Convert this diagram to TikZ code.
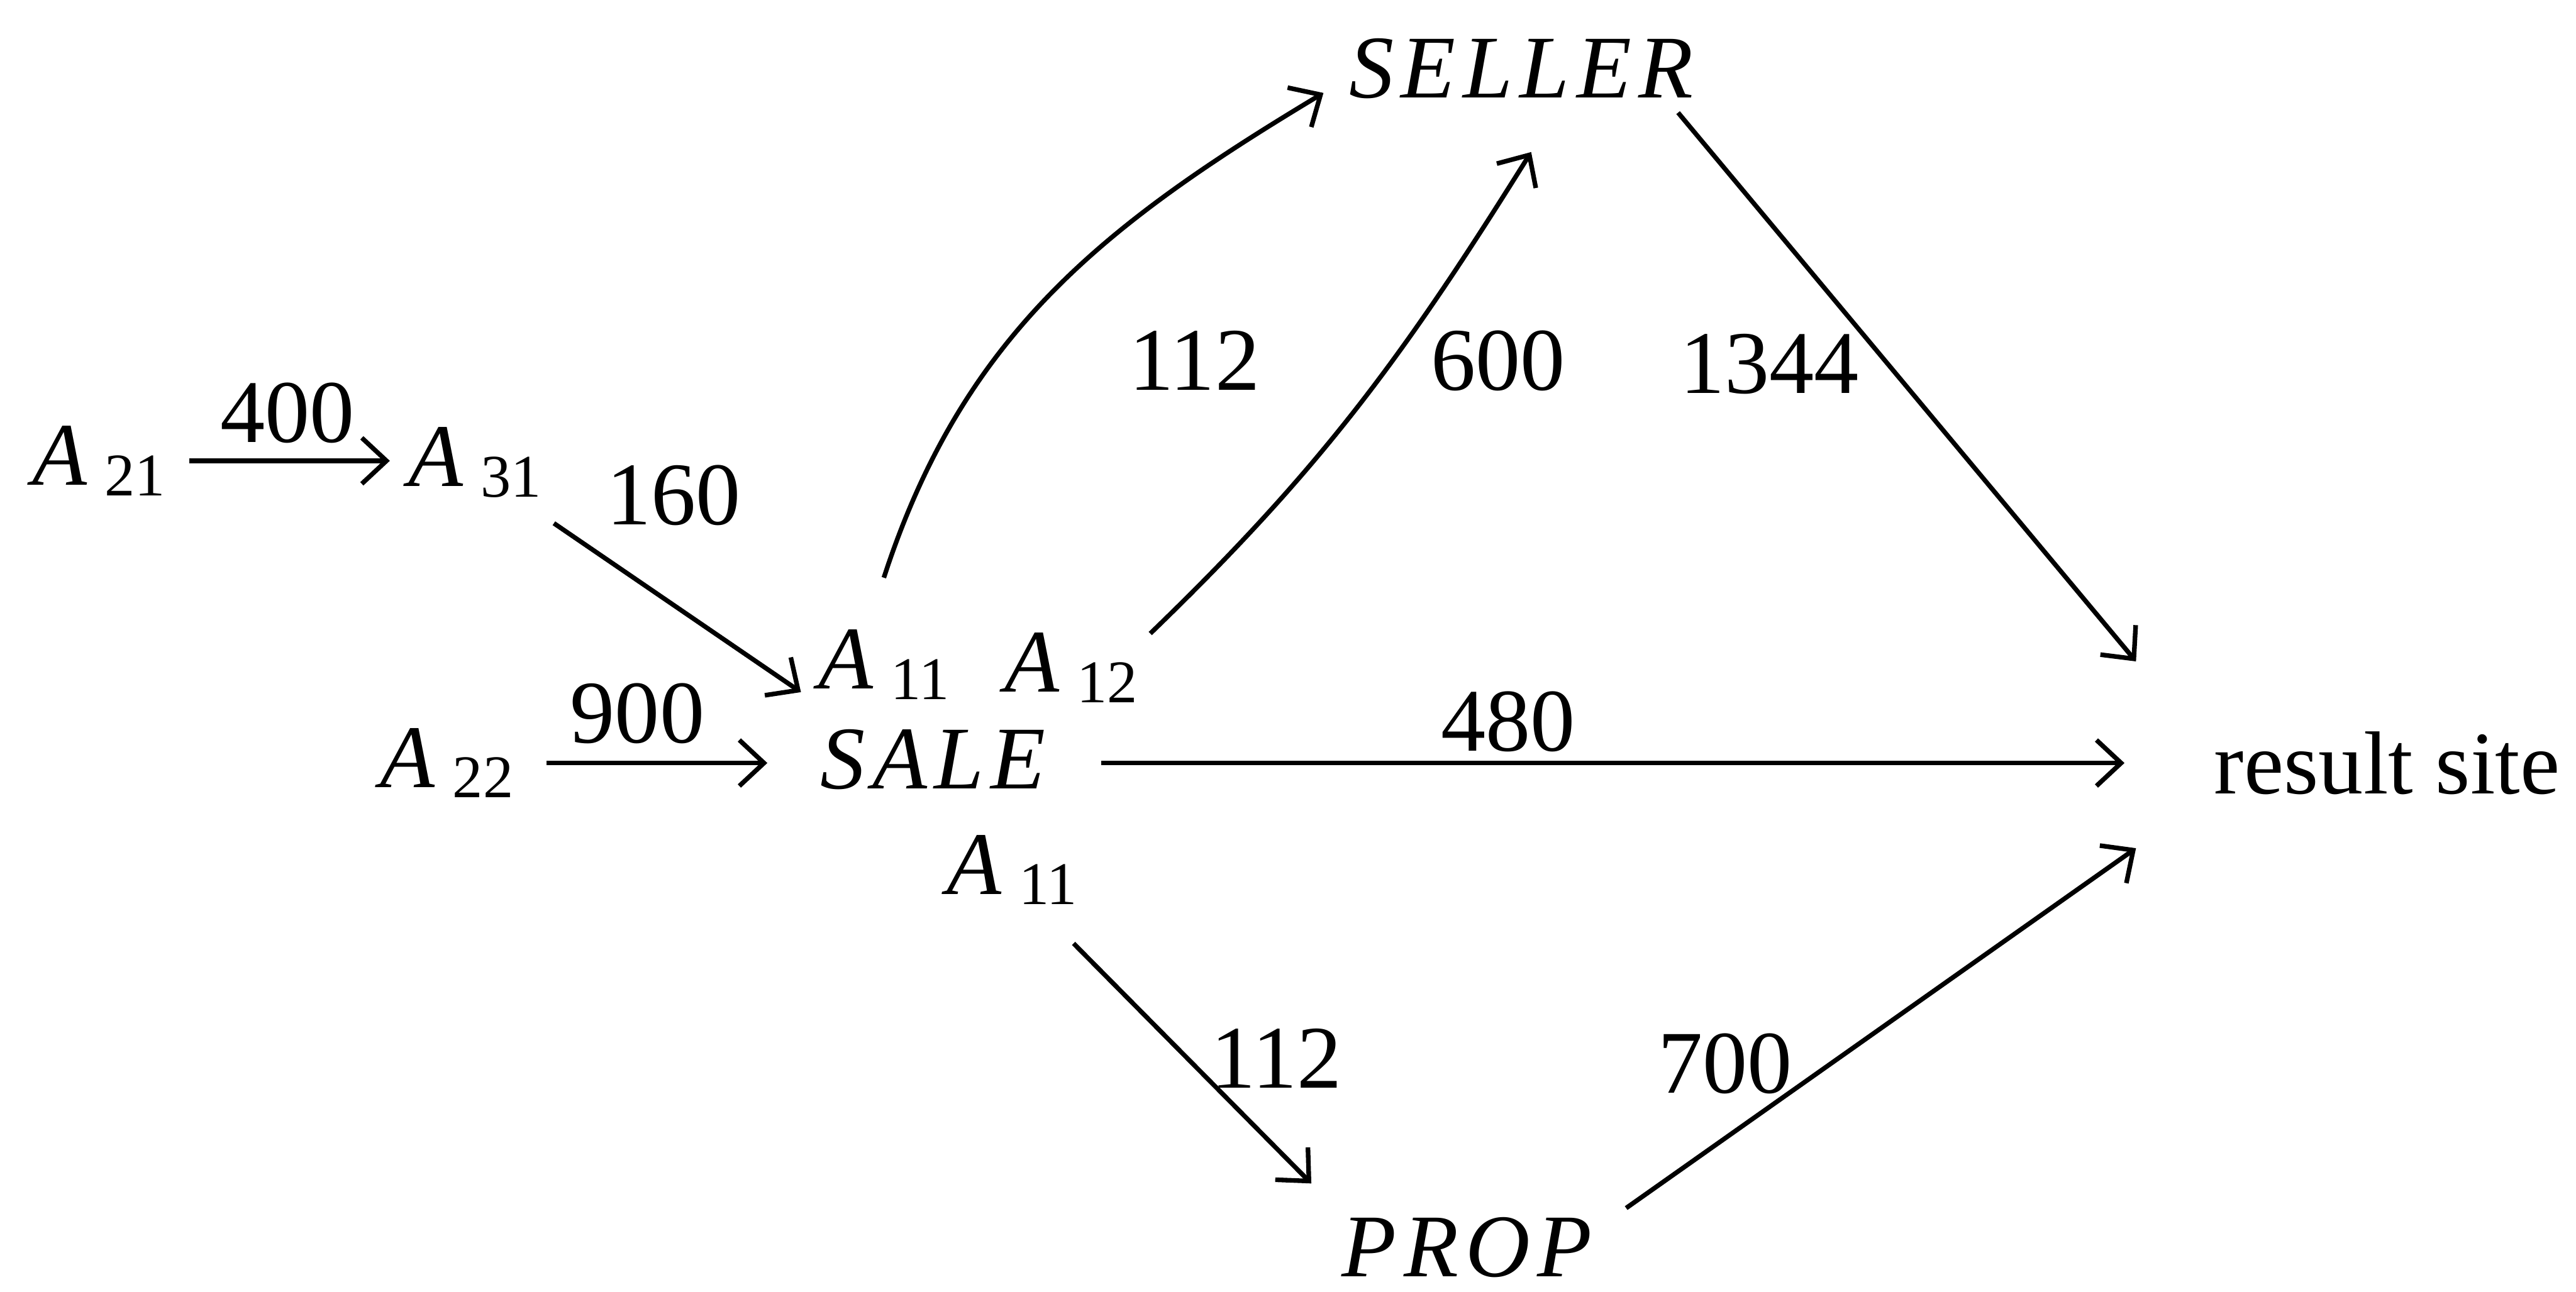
\documentclass[tikz,border=0pt]{standalone}
\usepackage{fontspec}
\setmainfont{Liberation Serif}
\newfontfamily\relfont[LetterSpace=8]{Liberation Serif}
\usetikzlibrary{arrows.meta}
\newcommand{\Att}[1]{\textit{A}\kern3pt\raisebox{-1.8pt}{\fontsize{10.5}{12}\selectfont #1}}
\begin{document}
\begin{tikzpicture}[x=1cm,y=1cm,font=\fontsize{15.5}{18}\selectfont]
\tikzset{relname/.style={inner sep=0pt,font=\fontsize{15.5}{18}\selectfont\relfont\itshape},
 attr/.style={inner sep=0pt},
 cost/.style={inner sep=0pt},
 flow/.style={line width=0.8pt,-{Straight Barb[length=1.5mm,width=2.8mm]}}}
\useasboundingbox (0,0) rectangle (15.68,7.866);
% relations and result site
\node[relname] (seller) at (9.26,7.45) {SELLER};
\node[relname] (sale) at (5.68,3.24) {SALE};
\node[relname] (prop) at (8.93,0.27) {PROP};
\node[attr] (result) at (14.53,3.22) {result site};
% join attributes
\node[attr] (a21) at (0.60,5.06) {\Att{21}};
\node[attr] (a31) at (2.89,5.05) {\Att{31}};
\node[attr] (a22) at (2.72,3.22) {\Att{22}};
\node[attr] (a11t) at (5.38,3.82) {\Att{11}};
\node[attr] (a12) at (6.52,3.80) {\Att{12}};
\node[attr] (a11b) at (6.16,2.57) {\Att{11}};
% transfer costs
\node[cost] (c400) at (1.75,5.35) {400};
\node[cost] (c160) at (4.10,4.85) {160};
\node[cost] (c900) at (3.88,3.52) {900};
\node[cost] (c112a) at (7.27,5.67) {112};
\node[cost] (c600) at (9.12,5.67) {600};
\node[cost] (c1344) at (10.77,5.65) {1344};
\node[cost] (c480) at (9.18,3.47) {480};
\node[cost] (c112b) at (7.77,1.42) {112};
\node[cost] (c700) at (10.50,1.39) {700};
% flows
\draw[flow,shorten <=4pt,shorten >=3pt] (a21.east) -- (a21.east -| a31.west);
\draw[flow] ([shift={(0.07,-0.15)}]a31.south east) -- ([shift={(-0.10,0.05)}]a11t.south west);
\draw[flow,shorten <=5.5pt,shorten >=9pt] (a22.east) -- (a22.east -| sale.west);
\draw[flow] ([xshift=0.33cm]sale.east |- result.west) -- ([xshift=-0.54cm]result.west);
\draw[flow] ([yshift=0.31cm]a11t.north) to[out=72,in=211] ([shift={(-0.15,-0.15)}]seller.west);
\draw[flow] ([shift={(0.07,-0.01)}]a12.north east) to[out=44,in=238] ([shift={(0.06,-0.32)}]seller.south);
\draw[flow] ([shift={(-0.10,-0.08)}]seller.south east) -- ([shift={(-0.47,0.42)}]result.north west);
\draw[flow] ([shift={(-0.03,-0.23)}]a11b.south east) -- ([shift={(-0.18,0.20)}]prop.north west);
\draw[flow] ([shift={(0.20,0.05)}]prop.north east) -- ([shift={(-0.47,-0.32)}]result.south west);
\end{tikzpicture}
\end{document}
